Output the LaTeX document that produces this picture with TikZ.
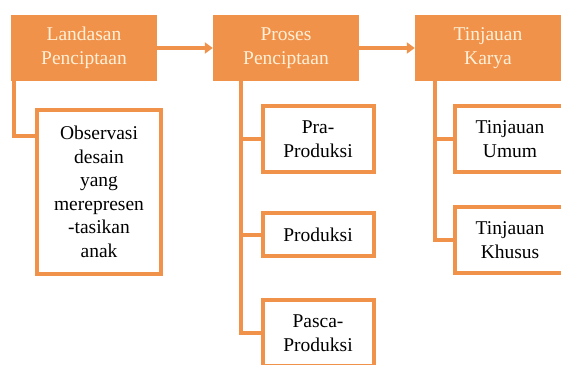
\documentclass[tikz,border=0pt]{standalone}
\usepackage{fontspec}
\setmainfont{Liberation Serif}
\usetikzlibrary{arrows.meta}
\definecolor{orng}{RGB}{241,146,75}
\definecolor{cream}{RGB}{255,240,215}

\begin{document}
\begin{tikzpicture}[x=1pt,y=-1pt,
  headbox/.style={fill=orng,text=cream,align=center,
    minimum width=146pt,minimum height=66pt,inner sep=0pt},
  itembox/.style={draw=orng,line width=4pt,fill=white,align=center,
    minimum width=111pt,minimum height=66pt,inner sep=0pt},
  link/.style={orng,line width=4pt,line join=miter},
  flow/.style={orng,line width=4pt,-{Triangle[length=8pt,width=11pt]}},
  every node/.style={font={\fontsize{19.5}{23.5}\selectfont}}]
  \useasboundingbox (0,0) rectangle (561,364);

  % top row of the three stages
  \node[headbox] (landasan) at (84,48) {Landasan\\Penciptaan};
  \node[headbox] (proses) at (286,48) {Proses\\Penciptaan};
  \node[headbox] (karya) at (488,48) {Tinjauan\\Karya};

  \draw[flow] (landasan.east) -- (proses.west);
  \draw[flow] (proses.east) -- (karya.west);

  % items under each stage
  \node[itembox,minimum width=124pt,minimum height=164pt] (observasi)
    at (99,192) {Observasi\\desain\\yang\\merepresen\\-tasikan\\anak};

  \node[itembox] (pra) at (318,139) {Pra-\\Produksi};
  \node[itembox,minimum height=43pt] (produksi) at (318,234.5) {Produksi};
  \node[itembox] (pasca) at (318,333) {Pasca-\\Produksi};

  \node[itembox] (umum) at (510,139) {Tinjauan\\Umum};
  \node[itembox] (khusus) at (510,240) {Tinjauan\\Khusus};

  \draw[link] ([xshift=3.5pt]landasan.south west)
    |- ([yshift=-28pt]observasi.north west);

  \draw[link] ([xshift=28.5pt]proses.south west) |- (pra.west);
  \draw[link] ([xshift=28.5pt]proses.south west) |- (produksi.west);
  \draw[link] ([xshift=28.5pt]proses.south west) |- (pasca.west);

  \draw[link] ([xshift=20.5pt]karya.south west) |- (umum.west);
  \draw[link] ([xshift=20.5pt]karya.south west) |- (khusus.west);
\end{tikzpicture}
\end{document}
